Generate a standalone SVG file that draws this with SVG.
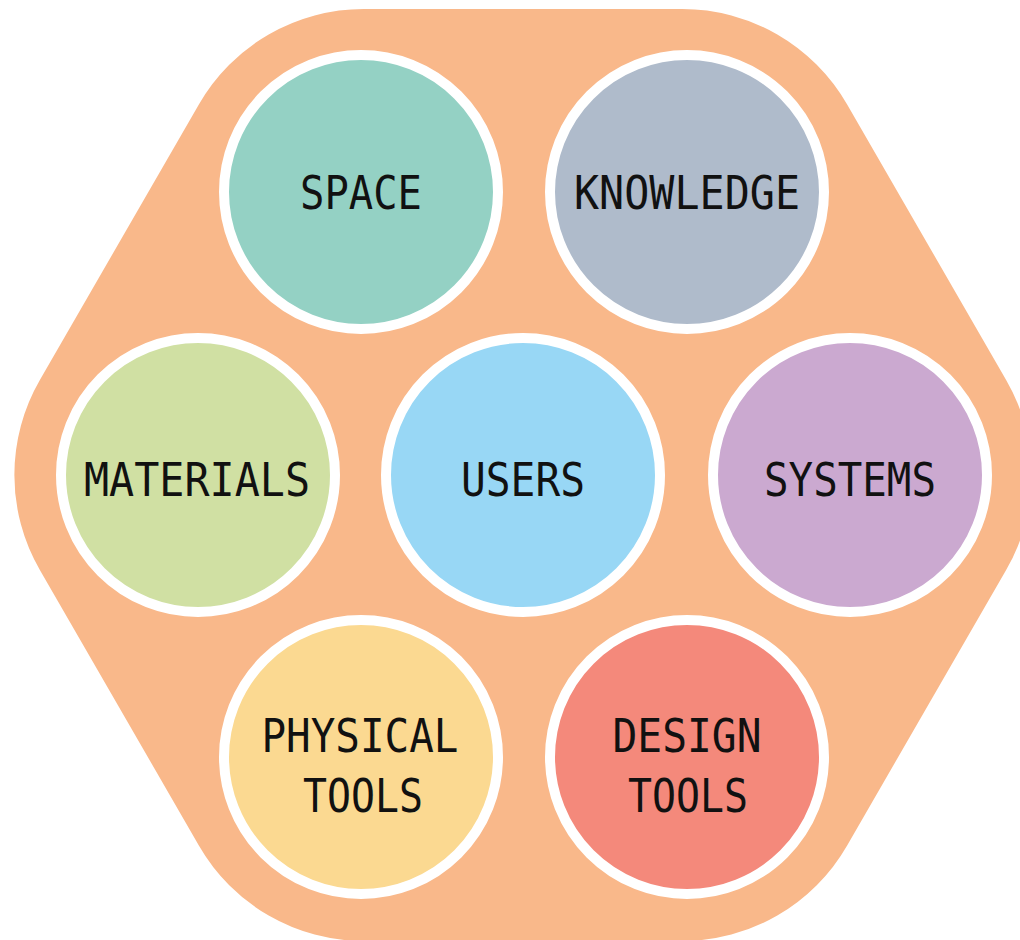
<svg xmlns="http://www.w3.org/2000/svg" width="1020" height="940" viewBox="0 0 1020 940">
<style>
.ring{stroke:#ffffff;stroke-width:10}
.lbl{font-family:"DejaVu Sans Mono","Liberation Mono",monospace;font-size:46px;fill:#111111;text-anchor:middle}
</style>
<rect width="1020" height="940" fill="#ffffff"/>
<path id="hexagon" fill="#F9B88A" d="M364,9 L682,9 A190,190 0 0 1 847,104.3 L1006,379.7 A190,190 0 0 1 1006,570.3 L847,845.7 A190,190 0 0 1 682,941 L364,941 A190,190 0 0 1 199,845.7 L40,570.3 A190,190 0 0 1 40,379.7 L199,104.3 A190,190 0 0 1 364,9 Z"/>
<g id="connectors"></g>
<g id="space"><circle class="ring" cx="361" cy="192" r="137" fill="#94D1C4"/><text class="lbl" x="361" y="209" textLength="122" lengthAdjust="spacingAndGlyphs">SPACE</text></g>
<g id="knowledge"><circle class="ring" cx="687" cy="192" r="137" fill="#AFBBCB"/><text class="lbl" x="687" y="209" textLength="226" lengthAdjust="spacingAndGlyphs">KNOWLEDGE</text></g>
<g id="materials"><circle class="ring" cx="198" cy="475" r="137" fill="#D0E0A3"/><text class="lbl" x="197" y="496" textLength="226" lengthAdjust="spacingAndGlyphs">MATERIALS</text></g>
<g id="users"><circle class="ring" cx="523" cy="475" r="137" fill="#98D7F5"/><text class="lbl" x="523" y="496" textLength="124" lengthAdjust="spacingAndGlyphs">USERS</text></g>
<g id="systems"><circle class="ring" cx="850" cy="475" r="137" fill="#CBA9D0"/><text class="lbl" x="850" y="496" textLength="172" lengthAdjust="spacingAndGlyphs">SYSTEMS</text></g>
<g id="physical-tools"><circle class="ring" cx="361" cy="757" r="137" fill="#FBD991"/><text class="lbl" x="360" y="752" textLength="197" lengthAdjust="spacingAndGlyphs">PHYSICAL</text><text class="lbl" x="363" y="812" textLength="120" lengthAdjust="spacingAndGlyphs">TOOLS</text></g>
<g id="design-tools"><circle class="ring" cx="687" cy="757" r="137" fill="#F4897B"/><text class="lbl" x="687" y="752" textLength="149" lengthAdjust="spacingAndGlyphs">DESIGN</text><text class="lbl" x="688" y="812" textLength="120" lengthAdjust="spacingAndGlyphs">TOOLS</text></g>
</svg>
